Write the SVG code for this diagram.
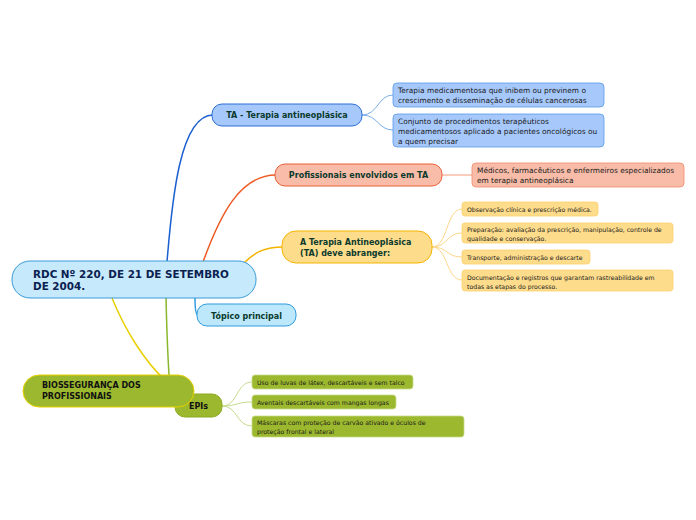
<svg xmlns="http://www.w3.org/2000/svg" width="696" height="520" viewBox="0 0 696 520">
<style>
text{font-family:"DejaVu Sans","Verdana",sans-serif}
.t{font-weight:bold;font-size:8px;fill:#0b3a2c}
.s{font-size:7.4px;fill:#1a1a1a}
.x{font-size:6.2px;fill:#1a1a1a}
.c{fill:none;stroke-width:1.5}
.cl{fill:none;stroke-width:1}
</style>
<rect width="696" height="520" fill="#ffffff"/>
<g id="connectors">
<path class="c" stroke="#1b5fd0" d="M167,262 C172,200 180,115 213,115"/>
<path class="c" stroke="#ee5a24" d="M203,262 C220,215 240,175 276,175"/>
<path class="c" stroke="#f5b400" d="M244,263 C255,252 265,247 283,247"/>
<path class="c" stroke="#2f9be0" d="M195,298 C195,308 196,315 198,315"/>
<path class="c" stroke="#8ab72c" d="M166,298 C167,340 169,380 171,400"/>
<path class="c" stroke="#e8d000" d="M112,298 C125,330 145,362 165,380"/>
<path class="cl" stroke="#7aaee8" d="M362,115 C378,115 378,95 393,95 M362,115 C378,115 378,130 393,130"/>
<path class="cl" stroke="#f59a7a" d="M442,175 L472,175"/>
<path class="cl" stroke="#fdd78a" d="M432,247 C448,247 446,209 462,209 M432,247 C448,247 446,233 462,233 M432,247 C448,247 446,257 462,257 M432,247 C448,247 446,280 462,280"/>
<path class="cl" stroke="#c5dc8a" d="M222,406 C238,406 236,382 252,382 M222,406 C238,406 236,402 252,402 M222,406 C238,406 236,426 252,426"/>
</g>
<g id="main">
<rect x="12" y="261" width="244" height="37" rx="18" fill="#c6eafb" stroke="#3a9bd8" stroke-width="1"/>
<text x="33" y="278" font-weight="bold" font-size="10.4" fill="#0a2050">RDC Nº 220, DE 21 DE SETEMBRO</text>
<text x="33" y="290" font-weight="bold" font-size="10.4" fill="#0a2050">DE 2004.</text>
</g>
<g id="ta">
<rect x="212" y="104" width="150" height="22" rx="10" fill="#a6c8fa" stroke="#2d6fd6" stroke-width="1"/>
<text class="t" x="287" y="118" text-anchor="middle">TA - Terapia antineoplásica</text>
</g>
<g id="ta1">
<rect x="393" y="83" width="211" height="24" rx="4" fill="#a6c8fa" stroke="#5a9ae8" stroke-width="0.8"/>
<text class="s" x="398" y="93">Terapia medicamentosa que inibem ou previnem o</text>
<text class="s" x="398" y="103">crescimento e disseminação de células cancerosas</text>
</g>
<g id="ta2">
<rect x="393" y="114" width="211" height="33" rx="4" fill="#a6c8fa" stroke="#5a9ae8" stroke-width="0.8"/>
<text class="s" x="398" y="124">Conjunto de procedimentos terapêuticos</text>
<text class="s" x="398" y="134">medicamentosos aplicado a pacientes oncológicos ou</text>
<text class="s" x="398" y="144">a quem precisar</text>
</g>
<g id="prof">
<rect x="275" y="164" width="167" height="22" rx="10" fill="#f8bca8" stroke="#e9603a" stroke-width="1"/>
<text class="t" x="358.5" y="178" text-anchor="middle">Profissionais envolvidos em TA</text>
</g>
<g id="prof1">
<rect x="472" y="163" width="212" height="24" rx="4" fill="#f8bca8" stroke="#f08a6a" stroke-width="0.8"/>
<text class="s" x="477" y="173">Médicos, farmacêuticos e enfermeiros especializados</text>
<text class="s" x="477" y="183">em terapia antineoplásica</text>
</g>
<g id="abr">
<rect x="282" y="231" width="150" height="32" rx="14" fill="#fddc8c" stroke="#f5b400" stroke-width="1"/>
<text class="t" x="300" y="245">A Terapia Antineoplásica</text>
<text class="t" x="300" y="256">(TA) deve abranger:</text>
</g>
<g id="abr1">
<rect x="462" y="202" width="136" height="14" rx="3" fill="#fddc8c" stroke="#fcd070" stroke-width="0.8"/>
<text class="x" x="467" y="212">Observação clínica e prescrição médica.</text>
</g>
<g id="abr2">
<rect x="462" y="223" width="211" height="20" rx="3" fill="#fddc8c" stroke="#fcd070" stroke-width="0.8"/>
<text class="x" x="467" y="232">Preparação: avaliação da prescrição, manipulação, controle de</text>
<text class="x" x="467" y="240.5">qualidade e conservação.</text>
</g>
<g id="abr3">
<rect x="462" y="250" width="128" height="14" rx="3" fill="#fddc8c" stroke="#fcd070" stroke-width="0.8"/>
<text class="x" x="467" y="260">Transporte, administração e descarte</text>
</g>
<g id="abr4">
<rect x="462" y="270" width="211" height="21" rx="3" fill="#fddc8c" stroke="#fcd070" stroke-width="0.8"/>
<text class="x" x="467" y="280">Documentação e registros que garantam rastreabilidade em</text>
<text class="x" x="467" y="288.5">todas as etapas do processo.</text>
</g>
<g id="topico">
<rect x="197" y="304" width="99" height="22" rx="10" fill="#bde8fb" stroke="#2f9be0" stroke-width="1"/>
<text class="t" x="246.5" y="319" text-anchor="middle">Tópico principal</text>
</g>
<g id="epis">
<rect x="175" y="394" width="47" height="23" rx="10" fill="#9cb82e" stroke="#8aab20" stroke-width="1"/>
<text x="198.5" y="409" text-anchor="middle" font-weight="bold" font-size="8" fill="#111">EPIs</text>
</g>
<g id="bio">
<rect x="23" y="375" width="171" height="32" rx="16" fill="#9cb82e" stroke="#e8d000" stroke-width="1"/>
<text x="42" y="388" font-weight="bold" font-size="8" fill="#111">BIOSSEGURANÇA DOS</text>
<text x="42" y="399" font-weight="bold" font-size="8" fill="#111">PROFISSIONAIS</text>
</g>
<g id="epi1">
<rect x="252" y="375" width="161" height="14" rx="3" fill="#9cb82e" stroke="#c8dc8a" stroke-width="0.8"/>
<text class="x" x="257" y="385">Uso de luvas de látex, descartáveis e sem talco</text>
</g>
<g id="epi2">
<rect x="252" y="395" width="144" height="14" rx="3" fill="#9cb82e" stroke="#c8dc8a" stroke-width="0.8"/>
<text class="x" x="257" y="405">Aventais descartáveis com mangas longas</text>
</g>
<g id="epi3">
<rect x="252" y="416" width="212" height="21" rx="3" fill="#9cb82e" stroke="#c8dc8a" stroke-width="0.8"/>
<text class="x" x="257" y="425">Máscaras com proteção de carvão ativado e óculos de</text>
<text class="x" x="257" y="433.5">proteção frontal e lateral</text>
</g>
</svg>
